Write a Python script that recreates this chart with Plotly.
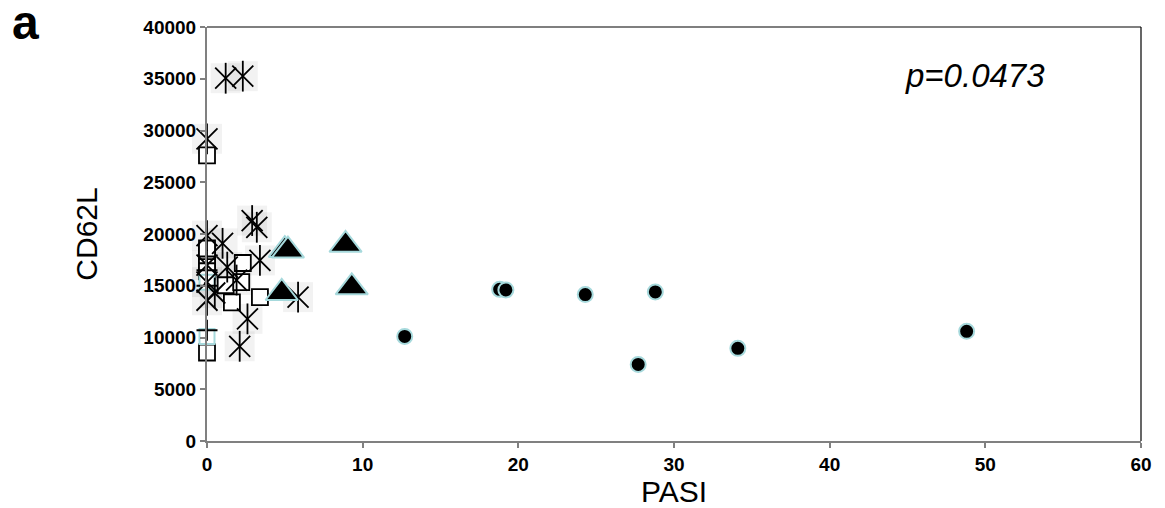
import plotly.graph_objects as go

# Data (PASI vs CD62L)
circle_x = [12.7, 18.8, 19.2, 24.3, 28.8, 27.7, 34.1, 48.8]
circle_y = [10100, 14650, 14600, 14150, 14400, 7400, 8950, 10600]

tri_x = [5.0, 5.2, 8.9, 4.8, 9.3]
tri_y = [18450, 18400, 18950, 14300, 14850]

sq_x = [0.0, 0.0, 0.0, 0.0, 0.0, 0.0, 0.0, 1.2, 1.6, 2.3, 2.2, 3.4, 0.0]
sq_y = [27600, 17300, 17700, 18200, 18600, 16800, 16400, 15050, 13400, 17200, 15350, 13900, 8550]

sq2_x = [0.0, 0.0]
sq2_y = [15350, 10100]

star_x = [1.2, 2.3, 0.0, 2.9, 3.2, 0.0, 1.0, 3.4, 0.0, 0.5, 5.85, 2.6, 2.1, 1.9, 0.0, 0.0, 1.3]
star_y = [35050, 35250, 29200, 21300, 20650, 19850, 19100, 17450, 15350, 14300, 13900, 11800, 9150, 15550, 17000, 13600, 16800]

plus_x = [0.0, 0.0, 0.0]
plus_y = [10700, 15000, 16500]

x_ticks = [0, 10, 20, 30, 40, 50, 60]
y_ticks = [0, 5000, 10000, 15000, 20000, 25000, 30000, 35000, 40000]

LB = "#a6d9dc"
FONT = "Liberation Sans, Arial"

fig = go.Figure()

# faint shadow boxes behind the star markers (as in the reference rendering)
fig.add_trace(go.Scatter(x=star_x, y=star_y, mode="markers", cliponaxis=False,
                         marker=dict(symbol="square", size=30, color="rgba(0,0,0,0.05)",
                                     line=dict(width=0))))
fig.add_trace(go.Scatter(x=sq_x, y=sq_y, mode="markers", cliponaxis=False,
                         marker=dict(symbol="square", size=16, color="white",
                                     line=dict(color="black", width=1.8))))
fig.add_trace(go.Scatter(x=sq2_x, y=sq2_y, mode="markers", cliponaxis=False,
                         marker=dict(symbol="square", size=15, color="white",
                                     line=dict(color=LB, width=2))))
fig.add_trace(go.Scatter(x=star_x, y=star_y, mode="markers", cliponaxis=False,
                         marker=dict(symbol="x-thin-open", size=21, color="black",
                                     line=dict(color="black", width=1.8))))
fig.add_trace(go.Scatter(x=star_x, y=star_y, mode="markers", cliponaxis=False,
                         marker=dict(symbol="line-ns-open", size=22, color="black",
                                     line=dict(color="black", width=1.8))))
fig.add_trace(go.Scatter(x=plus_x, y=plus_y, mode="markers", cliponaxis=False,
                         marker=dict(symbol="cross-thin-open", size=15, color="black",
                                     line=dict(color="black", width=1.8))))
fig.add_trace(go.Scatter(x=tri_x, y=tri_y, mode="markers", cliponaxis=False,
                         marker=dict(symbol="triangle-up", size=28, color="black",
                                     line=dict(color=LB, width=2))))
fig.add_trace(go.Scatter(x=circle_x, y=circle_y, mode="markers", cliponaxis=False,
                         marker=dict(symbol="circle", size=15, color="black",
                                     line=dict(color=LB, width=2))))

tickfont = dict(family=FONT, size=19, color="black", weight="bold")

fig.update_layout(
    width=1157, height=500,
    margin=dict(l=199, r=24, t=19, b=67),
    paper_bgcolor="white", plot_bgcolor="white",
    showlegend=False,
    xaxis=dict(range=[0, 60], tickvals=x_ticks, ticktext=[str(v) for v in x_ticks],
               showgrid=False, zeroline=False, showline=True, linecolor="#808080",
               linewidth=2, ticks="outside", ticklen=5, tickcolor="#808080", tickwidth=1.5,
               tickfont=tickfont, automargin=False,
               title=dict(text="PASI", font=dict(family=FONT, size=30, color="black"),
                          standoff=0)),
    yaxis=dict(range=[0, 40000], tickvals=y_ticks, ticktext=[str(v) for v in y_ticks],
               showgrid=False, zeroline=False, showline=True, linecolor="#808080",
               linewidth=2, ticks="outside", ticklen=5, tickcolor="#808080", tickwidth=1.5,
               tickfont=tickfont, automargin=False,
               title=dict(text="CD62L", font=dict(family=FONT, size=30, color="black"),
                          standoff=37)),
    shapes=[
        dict(type="line", xref="paper", yref="paper", x0=0, x1=1, y0=1, y1=1,
             line=dict(color="black", width=1.2)),
        dict(type="line", xref="paper", yref="paper", x0=1, x1=1, y0=0, y1=1,
             line=dict(color="black", width=1.2)),
    ],
    annotations=[
        dict(text="a", xref="paper", yref="paper", x=-0.211, y=1.012, xanchor="left", yanchor="middle",
             showarrow=False, font=dict(family=FONT, size=48, color="black", weight="bold")),
        dict(text="<i>p=0.0473</i>", xref="paper", yref="paper", x=0.822, y=0.884,
             xanchor="center", yanchor="middle", showarrow=False,
             font=dict(family=FONT, size=33, color="black")),
    ],
)

fig.write_html("out.html")
